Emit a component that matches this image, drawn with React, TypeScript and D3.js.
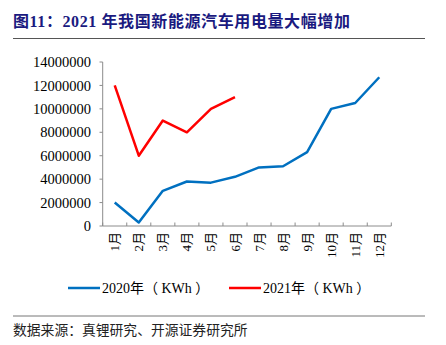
import React from "react";
import * as d3 from "d3";

const months = ["1月", "2月", "3月", "4月", "5月", "6月", "7月", "8月", "9月", "10月", "11月", "12月"];
const values2020 = [2000000, 300000, 3000000, 3800000, 3700000, 4200000, 5000000, 5100000, 6300000, 10000000, 10500000, 12700000];
const values2021 = [12000000, 6000000, 9000000, 8000000, 10000000, 11000000];
const yTicks = [0, 2000000, 4000000, 6000000, 8000000, 10000000, 12000000, 14000000];
const seriesNames = ["2020年（ KWh ）", "2021年（ KWh ）"];
const colors = ["#0070C0", "#FF0000"];

const W = 446, H = 345;
const serif = "'Liberation Serif', 'Noto Sans CJK SC', serif";

export default function App() {
  const x = d3.scaleBand<string>().domain(months).range([102.7, 391.3]).padding(0);
  const y = d3.scaleLinear().domain([0, 14000000]).range([226, 62]);
  const line = d3.line<number>()
    .x((_, i) => (x(months[i]) as number) + x.bandwidth() / 2)
    .y((d) => y(d));
  const axisColor = "#8c8c8c";
  return (
    <svg width={W} height={H} style={{ position: "absolute", left: 0, top: 0, background: "#fff" }}>
      <text x={13} y={27} fontFamily={serif} fontSize={16} fontWeight="bold" fill="#1a1a80" letterSpacing={0.6}>
        图11：2021 年我国新能源汽车用电量大幅增加
      </text>
      <line x1={13} x2={425} y1={38.5} y2={38.5} stroke="#555" strokeWidth={1} />
      {/* y axis */}
      <line x1={102.7} x2={102.7} y1={62} y2={226} stroke={axisColor} strokeWidth={1} />
      {yTicks.map((t) => (
        <g key={t}>
          <line x1={99.5} x2={102.7} y1={y(t)} y2={y(t)} stroke={axisColor} />
          <text x={91} y={y(t)} dy="0.35em" textAnchor="end" fontFamily={serif} fontSize={14.5} fill="#000">
            {t}
          </text>
        </g>
      ))}
      {/* x axis */}
      <line x1={102.7} x2={391.3} y1={226} y2={226} stroke={axisColor} strokeWidth={1} />
      {months.concat(["end"]).map((m, i) => {
        const xx = i < months.length ? (x(m) as number) : 391.3;
        return <line key={"t" + i} x1={xx} x2={xx} y1={222.5} y2={226} stroke={axisColor} />;
      })}
      {months.map((m) => {
        const cx = (x(m) as number) + x.bandwidth() / 2;
        return (
          <text key={m} transform={`translate(${cx},232) rotate(-90)`} dy="0.35em" textAnchor="end"
            fontFamily={serif} fontSize={13} fill="#000">
            {m}
          </text>
        );
      })}
      <path d={line(values2020) || ""} fill="none" stroke={colors[0]} strokeWidth={2.5} strokeLinejoin="round" />
      <path d={line(values2021) || ""} fill="none" stroke={colors[1]} strokeWidth={2.5} strokeLinejoin="round" />
      {/* legend */}
      {[68, 229].map((lx, i) => (
        <g key={i}>
          <line x1={lx} x2={lx + 32} y1={288} y2={288} stroke={colors[i]} strokeWidth={2.5} />
          <text x={lx + 34} y={288} dy="0.35em" fontFamily={serif} fontSize={14} fill="#000" style={{ whiteSpace: "pre" }}>
            {seriesNames[i]}
          </text>
        </g>
      ))}
      <line x1={13} x2={425} y1={316} y2={316} stroke="#777" strokeWidth={1} />
      <text x={13} y={330} dy="0.35em" fontFamily={serif} fontSize={13.8} fill="#222">
        数据来源：真锂研究、开源证券研究所
      </text>
    </svg>
  );
}
